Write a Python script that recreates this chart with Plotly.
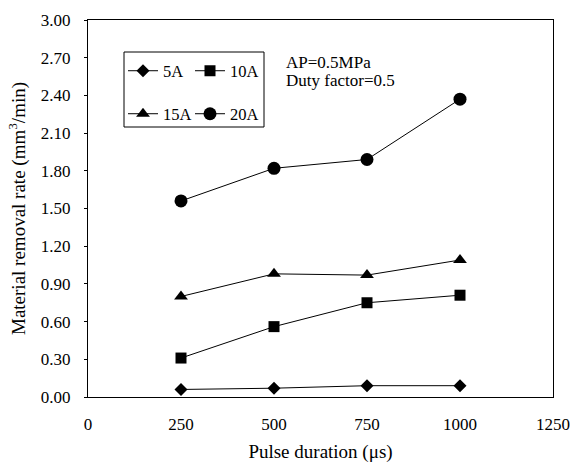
import plotly.graph_objects as go

pulse = [250, 500, 750, 1000]
mrr_5a = [0.06, 0.07, 0.09, 0.09]
mrr_10a = [0.31, 0.56, 0.75, 0.81]
mrr_15a = [0.80, 0.98, 0.97, 1.09]
mrr_20a = [1.56, 1.82, 1.89, 2.37]
x_ticks = [0, 250, 500, 750, 1000, 1250]
y_ticks = [0.0, 0.3, 0.6, 0.9, 1.2, 1.5, 1.8, 2.1, 2.4, 2.7, 3.0]

FONT = "Liberation Serif, Times New Roman, serif"

# plot area in pixels: left 88, right 553, top 20, bottom 397
L, R, T, B = 88, 553, 20, 397
def fx(px):
    return (px - L) / (R - L)
def fy(py):
    return (B - py) / (B - T)

series = [
    ("5A", mrr_5a, "diamond", 10, "legend", 142, 71),
    ("10A", mrr_10a, "square", 11, "legend2", 209, 71),
    ("15A", mrr_15a, "triangle-up", 12, "legend3", 142, 114),
    ("20A", mrr_20a, "circle", 13, "legend4", 209, 114),
]

fig = go.Figure()
legends = {}
for name, vals, sym, size, leg, mx, my in series:
    fig.add_trace(go.Scatter(
        x=pulse, y=vals, name=name, mode="lines+markers",
        line=dict(color="black", width=1),
        marker=dict(symbol=sym, size=size, color="black"),
        legend=leg,
    ))
    legends[leg] = dict(
        x=fx(mx - 19), y=fy(my), xanchor="left", yanchor="middle",
        orientation="h", bgcolor="rgba(0,0,0,0)", borderwidth=0,
        font=dict(family=FONT, size=16.5, color="black"),
    )

fig.update_layout(
    width=572, height=463,
    margin=dict(l=L, r=572 - R, t=T, b=463 - B, autoexpand=False),
    paper_bgcolor="white", plot_bgcolor="white",
    font=dict(family=FONT, size=17, color="black"),
    showlegend=True,
    **legends,
    xaxis=dict(
        range=[0, 1250], tickvals=x_ticks, ticktext=[str(v) for v in x_ticks],
        showgrid=False, zeroline=False, showline=True, linecolor="black",
        linewidth=1, mirror=True, ticks="", ticklen=0, automargin=False,
        ticklabelstandoff=12,
        tickfont=dict(family=FONT, size=17, color="black"),
        title=dict(text="Pulse duration (μs)", font=dict(family=FONT, size=19, color="black"), standoff=14),
    ),
    yaxis=dict(
        range=[0, 3.0], tickvals=y_ticks, ticktext=[f"{v:.2f}" for v in y_ticks],
        showgrid=False, zeroline=False, showline=True, linecolor="black",
        linewidth=1, mirror=True, ticks="outside", ticklen=3, tickcolor="black",
        ticklabelstandoff=10, automargin=False,
        tickfont=dict(family=FONT, size=17, color="black"),
        title=dict(text="Material removal rate (mm<sup>3</sup>/min)", font=dict(family=FONT, size=19, color="black"), standoff=10),
    ),
    shapes=[dict(
        type="rect", xref="paper", yref="paper",
        x0=fx(124), x1=fx(264), y0=fy(127), y1=fy(52),
        line=dict(color="black", width=1), fillcolor="rgba(0,0,0,0)",
    )],
    annotations=[
        dict(text="AP=0.5MPa", xref="paper", yref="paper",
             x=fx(284), y=fy(62), xanchor="left", yanchor="middle", showarrow=False,
             font=dict(family=FONT, size=17, color="black")),
        dict(text="Duty factor=0.5", xref="paper", yref="paper",
             x=fx(284), y=fy(80.5), xanchor="left", yanchor="middle", showarrow=False,
             font=dict(family=FONT, size=17, color="black")),
    ],
)

fig.write_html("out.html")
